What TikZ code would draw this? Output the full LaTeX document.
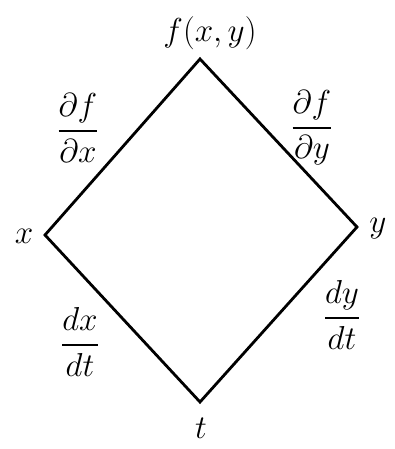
\documentclass[tikz,border=0pt]{standalone}
\usepackage{amsmath}
\newcommand{\bigtxt}[1]{\scalebox{1.6}{\huge #1}}
\begin{document}
\begin{tikzpicture}[x=1pt,y=-1pt,
  lbl/.style={inner sep=1pt},
  edge/.style={line width=2.8pt,line join=miter}]
\useasboundingbox (0,0) rectangle (394,449);
\coordinate (T) at (200,59);
\coordinate (L) at (45,235);
\coordinate (R) at (357,227);
\coordinate (B) at (200,402);
\draw[edge] (T) -- (R) -- (B) -- (L) -- cycle;
\node[lbl] (ft) at (210,33) {\bigtxt{$f(x,y)$}};
\node[lbl] (xl) at (24,236) {\bigtxt{$x$}};
\node[lbl] (yl) at (378,229) {\bigtxt{$y$}};
\node[lbl] (tl) at (201,428) {\bigtxt{$t$}};
\node[lbl] (fx) at (78,128) {\bigtxt{$\dfrac{\partial f}{\partial x}$}};
\node[lbl] (fy) at (312,128) {\bigtxt{$\dfrac{\partial f}{\partial y}$}};
\node[lbl] (xt) at (80,342) {\bigtxt{$\dfrac{dx}{dt}$}};
\node[lbl] (yt) at (342,315) {\bigtxt{$\dfrac{dy}{dt}$}};
\end{tikzpicture}
\end{document}
